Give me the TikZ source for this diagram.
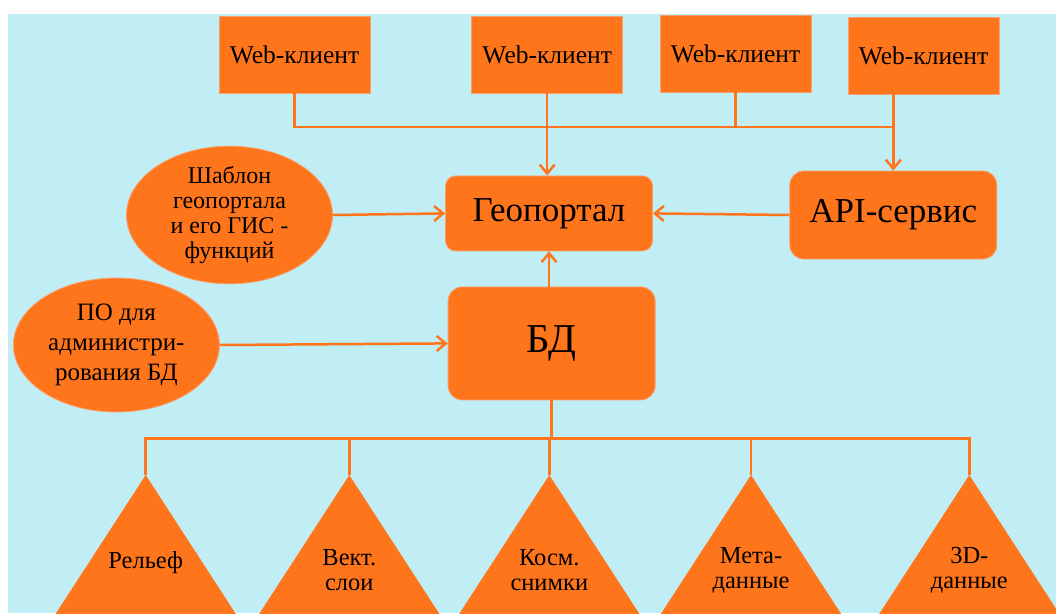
\documentclass[tikz,border=0pt]{standalone}
\usepackage{fontspec}
\setmainfont{Liberation Serif}
\usepackage{tikz}
\usetikzlibrary{arrows.meta}
\usetikzlibrary{shapes.geometric}

\definecolor{geoorange}{RGB}{255,117,27}
\definecolor{geosky}{RGB}{192,238,244}
\definecolor{geoedge}{RGB}{250,160,110}

\begin{document}
\begin{tikzpicture}[x=1pt, y=-1pt,
	link/.style={draw=geoorange, line width=2.5pt},
	arr/.style={link, -{Straight Barb[length=9pt,width=15pt]}},
	client/.style={fill=geoorange, draw=geoedge, line width=0.8pt, minimum width=151pt, minimum height=77pt, inner sep=0pt, font=\fontsize{25.5}{30}\selectfont},
	hub/.style={fill=geoorange, draw=geoedge, line width=0.8pt, rounded corners=14pt, minimum width=207pt, inner sep=0pt},
	oval/.style={ellipse, fill=geoorange, draw=geoedge, line width=0.8pt, minimum width=206pt, minimum height=134pt, inner sep=0pt, align=center},
	layer/.style={fill=geoorange},
	lbl/.style={align=center, font=\fontsize{24.5}{25}\selectfont}]
			\useasboundingbox (0,0) rectangle (1056,613);
			\fill[geosky] (8,14) rectangle (1056,613);
			\clip (8,14) rectangle (1056,613);
			\node[client] (web1) at (294.5,54.5) {Web-клиент};
			\node[client] (web2) at (547.2,54.5) {Web-клиент};
			\node[client] (web3) at (735.5,53.5) {Web-клиент};
			\node[client] (web4) at (923.5,55.5) {Web-клиент};
			\node[hub, minimum height=75pt, rounded corners=10pt, font=\fontsize{35}{40}\selectfont] (geo) at (549,213.4) {Геопортал};
			\node[hub, minimum height=88pt, font=\fontsize{35}{40}\selectfont] (api) at (893.3,215) {API-сервис};
			\node[hub, minimum height=113pt, font=\fontsize{41}{50}\selectfont] (bd) at (551.6,343.4) {БД};
			\node[oval, font=\fontsize{24}{25}\selectfont] (tmpl) at (229.5,215) {Шаблон\\геопортала\\и его ГИС -\\функций};
			\node[oval, font=\fontsize{25}{30}\selectfont] (adm) at (116.4,345) {ПО для\\администри-\\рования БД};
			\coordinate (webbus) at (0,127);
			\draw[link] (web1.south) -- (web1.south |- webbus) -- (api.north |- webbus);
			\draw[link] (web3.south) -- (web3.south |- webbus);
			\draw[arr] (web2.south) -- (web2.south |- geo.north);
			\draw[arr] (api.north |- web4.south) -- (api.north);
			\draw[arr] (tmpl.east) -- (geo.west);
			\draw[arr] (api.west) -- (geo.east);
			\draw[arr] (geo.south |- bd.north) -- (geo.south);
			\draw[arr] (adm.east) -- (bd.west);
			\coordinate (bus) at (0,438.3);
			\draw[link] (bd.south) -- (bd.south |- bus);
			\foreach \n/\x/\y/\txt in {1/145.7/563/Рельеф, 2/349.3/570/{Вект.\\слои}, 3/549.3/570/{Косм.\\снимки}, 4/751/570/{Мета-\\данные}, 5/969.3/570/{3D-\\данные}}{
				\fill[layer] (\x,475) -- (\x-120,660) -- (\x+120,660) -- cycle;
				\coordinate (top\n) at (\x,475);
				\node[lbl] (layer\n) at (\x,\y) {\txt};
				\draw[link] (top\n) -- (top\n |- bus);
			}
			\draw[link] (top1) -- (top1 |- bus) -- (top5 |- bus) -- (top5);
\end{tikzpicture}
\end{document}
